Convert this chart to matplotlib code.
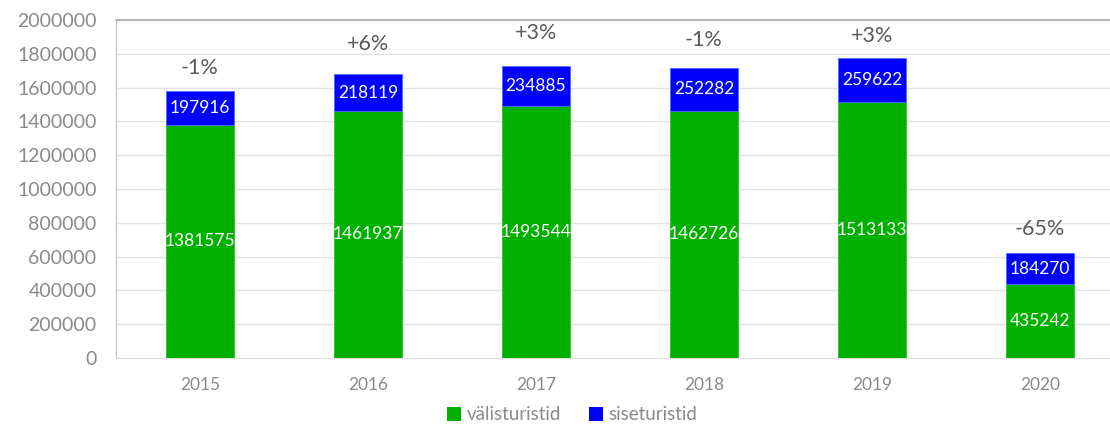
import matplotlib
matplotlib.use("Agg")
import matplotlib.pyplot as plt
from matplotlib.patches import Patch

plt.rcParams['font.family'] = ['Lato', 'DejaVu Sans']

years = ["2015", "2016", "2017", "2018", "2019", "2020"]
foreign = [1381575, 1461937, 1493544, 1462726, 1513133, 435242]
domestic = [197916, 218119, 234885, 252282, 259622, 184270]
changes = ["-1%", "+6%", "+3%", "-1%", "+3%", "-65%"]
y_ticks = list(range(0, 2000001, 200000))

green = "#00B000"
blue = "#0000FF"

W, H = 1110, 426
fig = plt.figure(figsize=(W / 100, H / 100), dpi=100)
ax = fig.add_axes([116 / W, (H - 358) / H, (W - 116) / W, 338 / H])

x = list(range(len(years)))
bw = 0.405
ax.bar(x, foreign, width=bw, color=green, edgecolor="#33C033", linewidth=0.6, zorder=3)
ax.bar(x, domestic, bottom=foreign, width=bw, color=blue, edgecolor="#4D6BFF", linewidth=0.6, zorder=3)

for i in x:
    ax.text(i, foreign[i] / 2, f"{foreign[i]}", ha="center", va="center",
            color="white", fontsize=12.5, zorder=4)
    ax.text(i, foreign[i] + domestic[i] / 2, f"{domestic[i]}", ha="center", va="center",
            color="white", fontsize=12.5, zorder=4)

label_offsets = [23, 30, 33, 28, 22, 24]
for i in x:
    ax.annotate(changes[i], (i, foreign[i] + domestic[i]), xytext=(0, label_offsets[i]),
                textcoords="offset pixels", ha="center", va="center",
                color="#595959", fontsize=15.5)

ax.set_ylim(0, 2000000)
ax.set_xlim(-0.5, -0.5 + (W - 116) / 168)
ax.set_yticks(y_ticks)
ax.set_yticklabels([str(v) for v in y_ticks])
ax.set_xticks(x)
ax.set_xticklabels(years)
ax.tick_params(axis="y", length=0, labelsize=14, labelcolor="#8A8A8A", pad=14)
ax.tick_params(axis="x", length=0, labelsize=12.5, labelcolor="#8A8A8A", pad=14)

ax.grid(axis="y", color="#E4E4E4", linewidth=1, zorder=0)
ax.set_axisbelow(True)
ax.spines["right"].set_visible(False)
ax.spines["top"].set_color("#A8A8A8")
ax.spines["top"].set_linewidth(1.2)
ax.spines["left"].set_color("#C0C0C0")
ax.spines["bottom"].set_color("#E0E0E0")

handles = [Patch(facecolor=green, label="välisturistid"),
           Patch(facecolor=blue, label="siseturistid")]
fig.legend(handles=handles, loc="center", bbox_to_anchor=(572 / W, 1 - 415 / H),
           ncol=2, frameon=False, fontsize=13.5, labelcolor="#8A8A8A",
           handlelength=0.75, handleheight=0.75, handletextpad=0.3, columnspacing=1.5)

fig.savefig("out.png", dpi=100)
